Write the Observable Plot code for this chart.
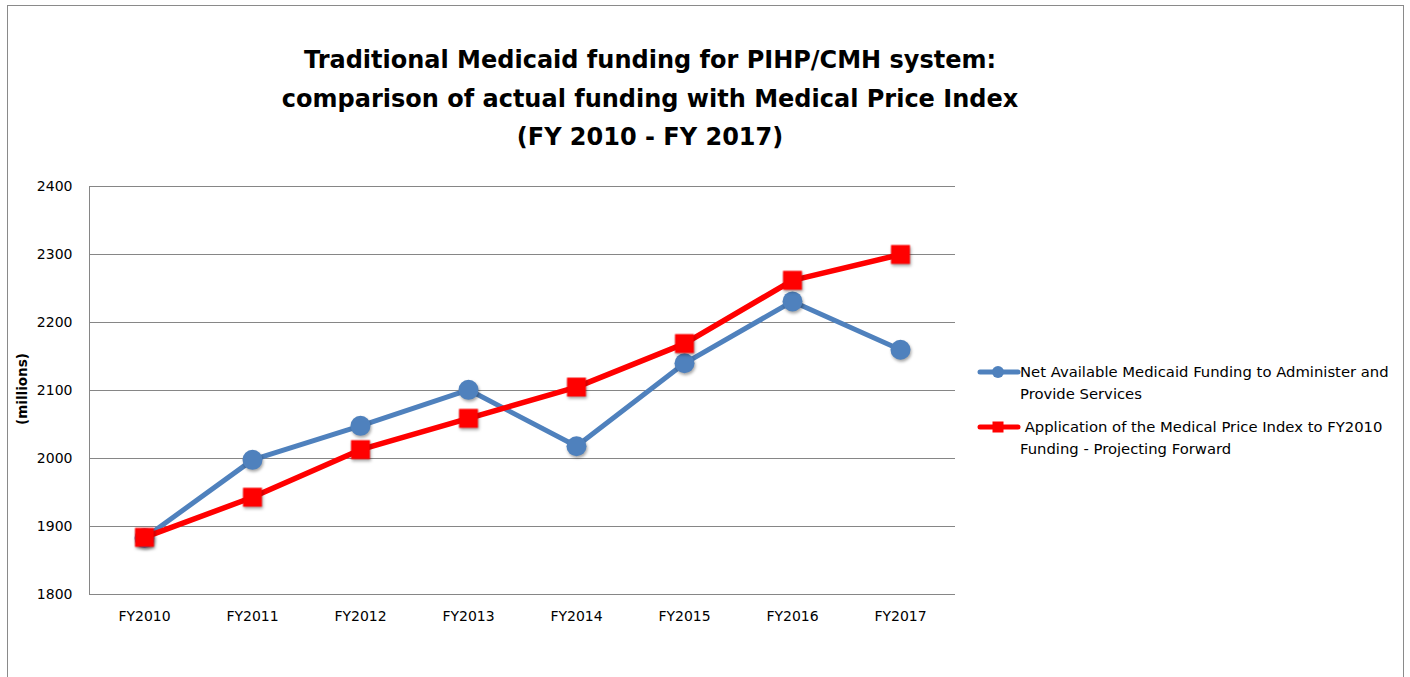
<!DOCTYPE html>
<html>
<head>
<meta charset="utf-8">
<script src="https://cdn.jsdelivr.net/npm/d3@7"></script>
<script src="https://cdn.jsdelivr.net/npm/@observablehq/plot@0.6"></script>
<style>
  html, body { margin: 0; padding: 0; background: #fff; }
  #wrap { position: relative; width: 1410px; height: 677px; overflow: hidden; font-family: "DejaVu Sans", sans-serif; }
  #border { position: absolute; left: 7px; top: 5px; width: 1397px; height: 720px; border: 1px solid #8a8a8a; box-sizing: border-box; }
  #title { position: absolute; left: 0; width: 1300px; top: 41px; text-align: center; font-weight: bold; font-size: 24px; line-height: 38.5px; color: #000; }
  #ylabel { position: absolute; left: 22px; top: 389px; transform: translate(-50%, -50%) rotate(-90deg); font-weight: bold; font-size: 13.5px; white-space: nowrap; }
  #chart { position: absolute; left: 0; top: 0; }
  .leg { position: absolute; left: 977px; font-size: 14.8px; line-height: 22px; color: #000; }
  .leg svg { position: absolute; left: 0; top: 0; }
  .leg .txt { position: absolute; left: 43px; top: 0; white-space: nowrap; }
</style>
</head>
<body>
<div id="wrap">
  <div id="border"></div>
  <div id="title">Traditional Medicaid funding for PIHP/CMH system:<br>comparison of actual funding with Medical Price Index<br>(FY 2010 - FY 2017)</div>
  <div id="ylabel">(millions)</div>
  <div id="chart"></div>
  <div class="leg" id="leg1" style="top:361px;"></div>
  <div class="leg" id="leg2" style="top:416px;"></div>
</div>
<script>
const years = ["FY2010","FY2011","FY2012","FY2013","FY2014","FY2015","FY2016","FY2017"];
const netFunding = [1883, 1998, 2048, 2101, 2018, 2140, 2231, 2160];
const priceIndex = [1884, 1943, 2013, 2059, 2105, 2169, 2262, 2300];
const yTicks = [1800, 1900, 2000, 2100, 2200, 2300, 2400];
const seriesNames = [
  "Net Available Medicaid Funding to Administer and Provide Services",
  "Application of the Medical Price Index to FY2010 Funding - Projecting Forward"
];
const legendLines = [
  ["Net Available Medicaid Funding to Administer and", "Provide Services"],
  ["\u00A0Application of the Medical Price Index to FY2010", "Funding - Projecting Forward"]
];
const colors = ["#4F81BD", "#FF0000"];

const blue = years.map((y, i) => ({year: y, value: netFunding[i], series: seriesNames[0]}));
const red = years.map((y, i) => ({year: y, value: priceIndex[i], series: seriesNames[1]}));

const plot = Plot.plot({
  width: 1410,
  height: 677,
  marginLeft: 89,
  marginRight: 455,
  marginTop: 186,
  marginBottom: 83,
  style: {fontFamily: "'DejaVu Sans', sans-serif", fontSize: "14px", color: "#000", background: "transparent", overflow: "visible"},
  x: {type: "point", domain: years, padding: 0.5, label: null, tickSize: 0, tickPadding: 17},
  y: {domain: [1800, 2400], ticks: yTicks, tickFormat: "d", label: null, tickSize: 0, tickPadding: 17},
  marks: [
    Plot.gridY(yTicks, {stroke: "#868686", strokeOpacity: 1, strokeWidth: 1}),
    Plot.frame({anchor: "left", stroke: "#868686"}),
    Plot.ruleY([1800], {stroke: "#868686"}),
    Plot.line(blue, {x: "year", y: "value", stroke: colors[0], strokeWidth: 5, strokeLinejoin: "round"}),
    Plot.dot(blue, {x: "year", y: "value", r: 10, symbol: "circle", fill: colors[0], stroke: "none"}),
    Plot.line(red, {x: "year", y: "value", stroke: colors[1], strokeWidth: 5.5, strokeLinejoin: "round"}),
    Plot.dot(red, {x: "year", y: "value", r: 10.7, symbol: "square", fill: colors[1], stroke: "none"})
  ]
});
document.getElementById("chart").appendChild(plot);
d3.select(plot).selectAll("g[aria-label='dot']").style("filter", "drop-shadow(1px 2px 1.5px rgba(0,0,0,0.35))");

// legend
[0, 1].forEach(i => {
  const el = document.getElementById("leg" + (i + 1));
  const svg = d3.create("svg").attr("width", 44).attr("height", 22);
  svg.append("line").attr("x1", 3).attr("x2", 41).attr("y1", 11).attr("y2", 11)
    .attr("stroke", colors[i]).attr("stroke-width", 5).attr("stroke-linecap", "round");
  if (i === 0) svg.append("circle").attr("cx", 21).attr("cy", 11).attr("r", 6).attr("fill", colors[i]);
  else svg.append("rect").attr("x", 15.5).attr("y", 5.5).attr("width", 11).attr("height", 11).attr("fill", colors[i]);
  el.appendChild(svg.node());
  const t = document.createElement("div");
  t.className = "txt";
  t.innerHTML = legendLines[i].join("<br>");
  el.appendChild(t);
});
</script>
</body>
</html>
